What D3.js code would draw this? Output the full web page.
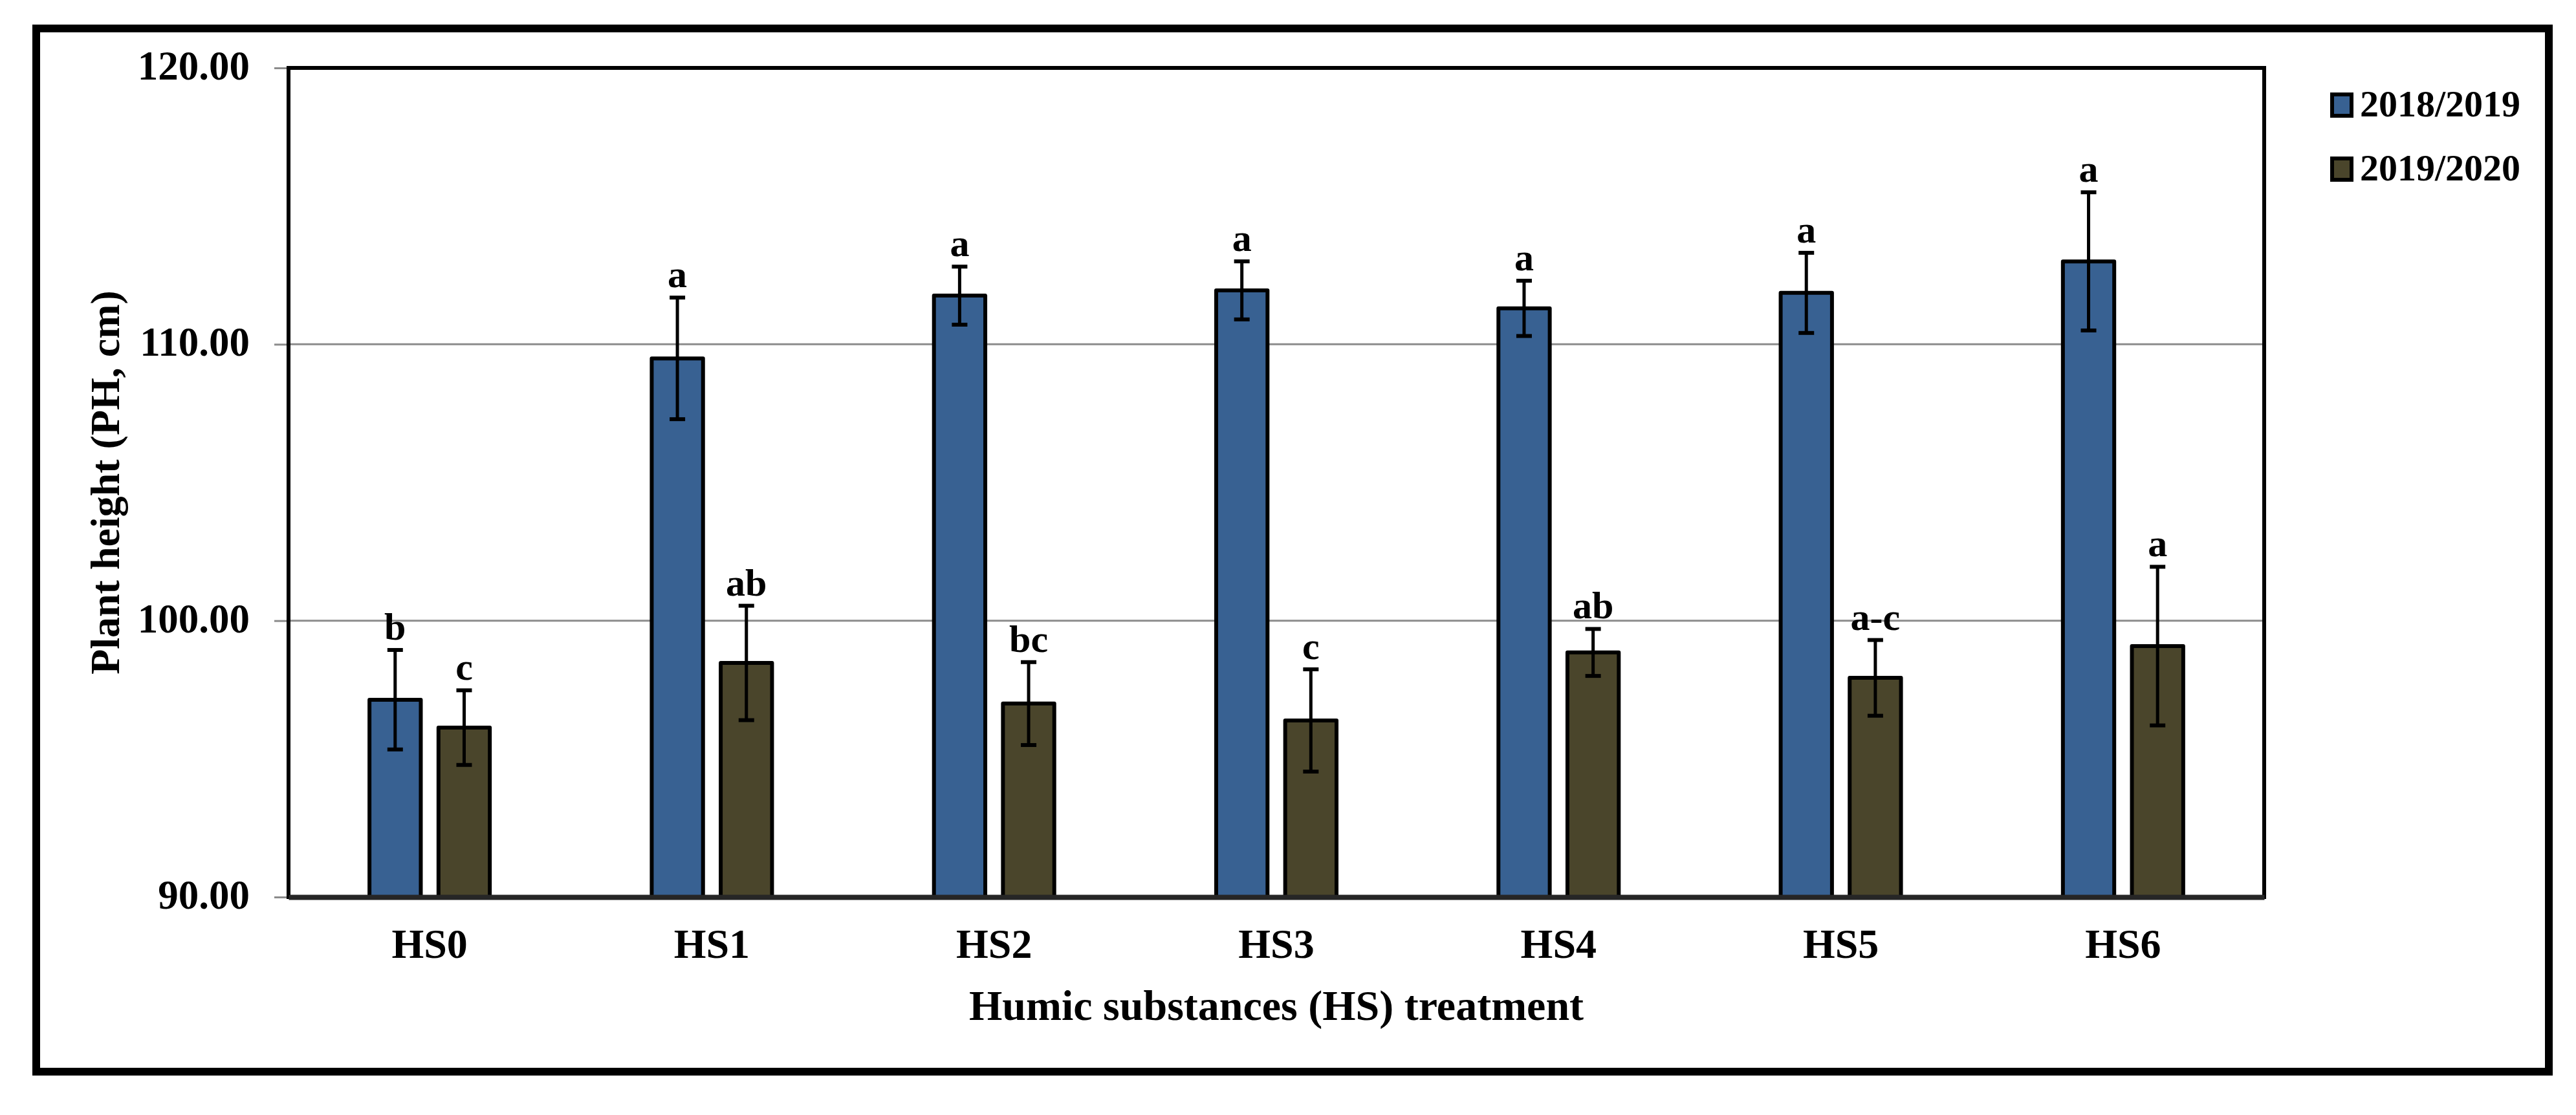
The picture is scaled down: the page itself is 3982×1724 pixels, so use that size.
<!DOCTYPE html>
<html>
<head>
<meta charset="utf-8">
<script src="https://cdn.jsdelivr.net/npm/d3@7"></script>
<style>
	body { margin: 0; background: #ffffff; }
	text { font-family: "Times New Roman", "Liberation Serif", serif; font-weight: bold; fill: #000; }
</style>
</head>
<body>
<div id="vis-container"></div>
<script>
// data
var categories = ["HS0", "HS1", "HS2", "HS3", "HS4", "HS5", "HS6"];
var seasons = ["2018/2019", "2019/2020"];

var height1819 = [97.14, 109.49, 111.76, 111.95, 111.30, 111.86, 113.00];
var error1819 = [1.80, 2.20, 1.05, 1.05, 1.00, 1.45, 2.50];
var letters1819 = ["b", "a", "a", "a", "a", "a", "a"];

var height1920 = [96.13, 98.47, 97.00, 96.39, 98.85, 97.93, 99.08];
var error1920 = [1.35, 2.07, 1.50, 1.85, 0.85, 1.37, 2.87];
var letters1920 = ["c", "ab", "bc", "c", "ab", "a-c", "a"];

var yTicks = [90, 100, 110, 120];

// svg container
var width = 3982;
var height = 1724;

// plot area (window.top is reserved, hence the prefix)
var plotLeft = 446, plotRight = 3500, plotTop = 105, plotBottom = 1387;

var colors = {"2018/2019": "#386192", "2019/2020": "#4a452b"};

var rows = [];
categories.forEach(function(c, i) {
	rows.push({cat: c, key: seasons[0], value: height1819[i], err: error1819[i], letter: letters1819[i]});
	rows.push({cat: c, key: seasons[1], value: height1920[i], err: error1920[i], letter: letters1920[i]});
});

var svg = d3.select("#vis-container")
	.append("svg")
	.attr("width", width)
	.attr("height", height);

svg.append("rect")
	.attr("width", width)
	.attr("height", height)
	.attr("fill", "#ffffff");

// outer frame
svg.append("rect")
	.attr("x", 56)
	.attr("y", 44)
	.attr("width", 3884)
	.attr("height", 1613)
	.attr("fill", "none")
	.attr("stroke", "#000")
	.attr("stroke-width", 12);

var x0 = d3.scaleBand().domain(categories).range([plotLeft, plotRight]);
var x1 = d3.scaleBand().domain(seasons).range([-96, 96]).paddingInner(0.2);
var y = d3.scaleLinear().domain([90, 120]).range([plotBottom, plotTop]);

// gridlines
svg.append("g")
	.selectAll("line")
	.data(yTicks.slice(1))
	.enter()
	.append("line")
	.attr("x1", plotLeft)
	.attr("x2", plotRight)
	.attr("y1", function(d) { return y(d); })
	.attr("y2", function(d) { return y(d); })
	.attr("stroke", "#8c8c8c")
	.attr("stroke-width", 3);

// y axis
var yaxisg = svg.append("g")
	.attr("transform", "translate(" + plotLeft + ",0)")
	.call(d3.axisLeft(y).tickValues(yTicks).tickSize(22).tickPadding(38).tickFormat(d3.format(".2f")));
yaxisg.select(".domain").remove();
yaxisg.selectAll(".tick line").attr("stroke", "#8c8c8c").attr("stroke-width", 3);
yaxisg.selectAll(".tick text")
	.style("font-size", "63px")
	.attr("dy", "0.28em");

// plot border
svg.append("rect")
	.attr("x", plotLeft)
	.attr("y", plotTop)
	.attr("width", plotRight - plotLeft)
	.attr("height", plotBottom - plotTop)
	.attr("fill", "none")
	.attr("stroke", "#000")
	.attr("stroke-width", 6);

// bars
var groups = svg.append("g")
	.selectAll("g")
	.data(rows)
	.enter()
	.append("g")
	.attr("transform", function(d) {
		return "translate(" + (x0(d.cat) + x0.bandwidth() / 2 + x1(d.key) + x1.bandwidth() / 2) + ",0)";
	});

var bw = x1.bandwidth() - 6;

groups.append("rect")
	.attr("x", -bw / 2)
	.attr("y", function(d) { return y(d.value); })
	.attr("width", bw)
	.attr("height", function(d) { return y(90) - y(d.value); })
	.attr("fill", function(d) { return colors[d.key]; })
	.attr("stroke", "#000")
	.attr("stroke-width", 6)
	.attr("stroke-linejoin", "round");

// error bars
groups.append("line")
	.attr("x1", 0).attr("x2", 0)
	.attr("y1", function(d) { return y(d.value + d.err); })
	.attr("y2", function(d) { return y(d.value - d.err); })
	.attr("stroke", "#000")
	.attr("stroke-width", 5);
groups.selectAll(".cap")
	.data(function(d) { return [d.value + d.err, d.value - d.err]; })
	.enter()
	.append("line")
	.attr("class", "cap")
	.attr("x1", -12).attr("x2", 12)
	.attr("y1", function(v) { return y(v); })
	.attr("y2", function(v) { return y(v); })
	.attr("stroke", "#000")
	.attr("stroke-width", 6);

// significance letters
groups.append("text")
	.attr("text-anchor", "middle")
	.attr("y", function(d) { return y(d.value + d.err) - 16; })
	.style("font-size", "60px")
	.text(function(d) { return d.letter; });

// x axis
var xaxisg = svg.append("g")
	.attr("transform", "translate(0," + plotBottom + ")")
	.call(d3.axisBottom(x0).tickSize(0));
xaxisg.select(".domain")
	.attr("stroke", "#262626")
	.attr("stroke-width", 8);
xaxisg.selectAll(".tick text")
	.attr("y", 94)
	.attr("dy", "0")
	.style("font-size", "64px");

// axis titles
svg.append("text")
	.attr("x", (plotLeft + plotRight) / 2)
	.attr("y", 1577)
	.attr("text-anchor", "middle")
	.style("font-size", "66px")
	.text("Humic substances (HS) treatment");

svg.append("text")
	.attr("transform", "translate(184," + (plotTop + plotBottom) / 2 + ") rotate(-90)")
	.attr("text-anchor", "middle")
	.style("font-size", "64px")
	.text("Plant height (PH, cm)");

// legend
var legend = svg.append("g")
	.selectAll("g")
	.data(seasons)
	.enter()
	.append("g")
	.attr("transform", function(d, i) { return "translate(3602," + (143 + i * 99) + ")"; });

legend.append("rect")
	.attr("x", 3)
	.attr("y", 3)
	.attr("width", 30)
	.attr("height", 33)
	.attr("fill", function(d) { return colors[d]; })
	.attr("stroke", "#000")
	.attr("stroke-width", 6);

legend.append("text")
	.attr("x", 46)
	.attr("y", 37)
	.style("font-size", "58px")
	.text(function(d) { return d; });
</script>
</body>
</html>
